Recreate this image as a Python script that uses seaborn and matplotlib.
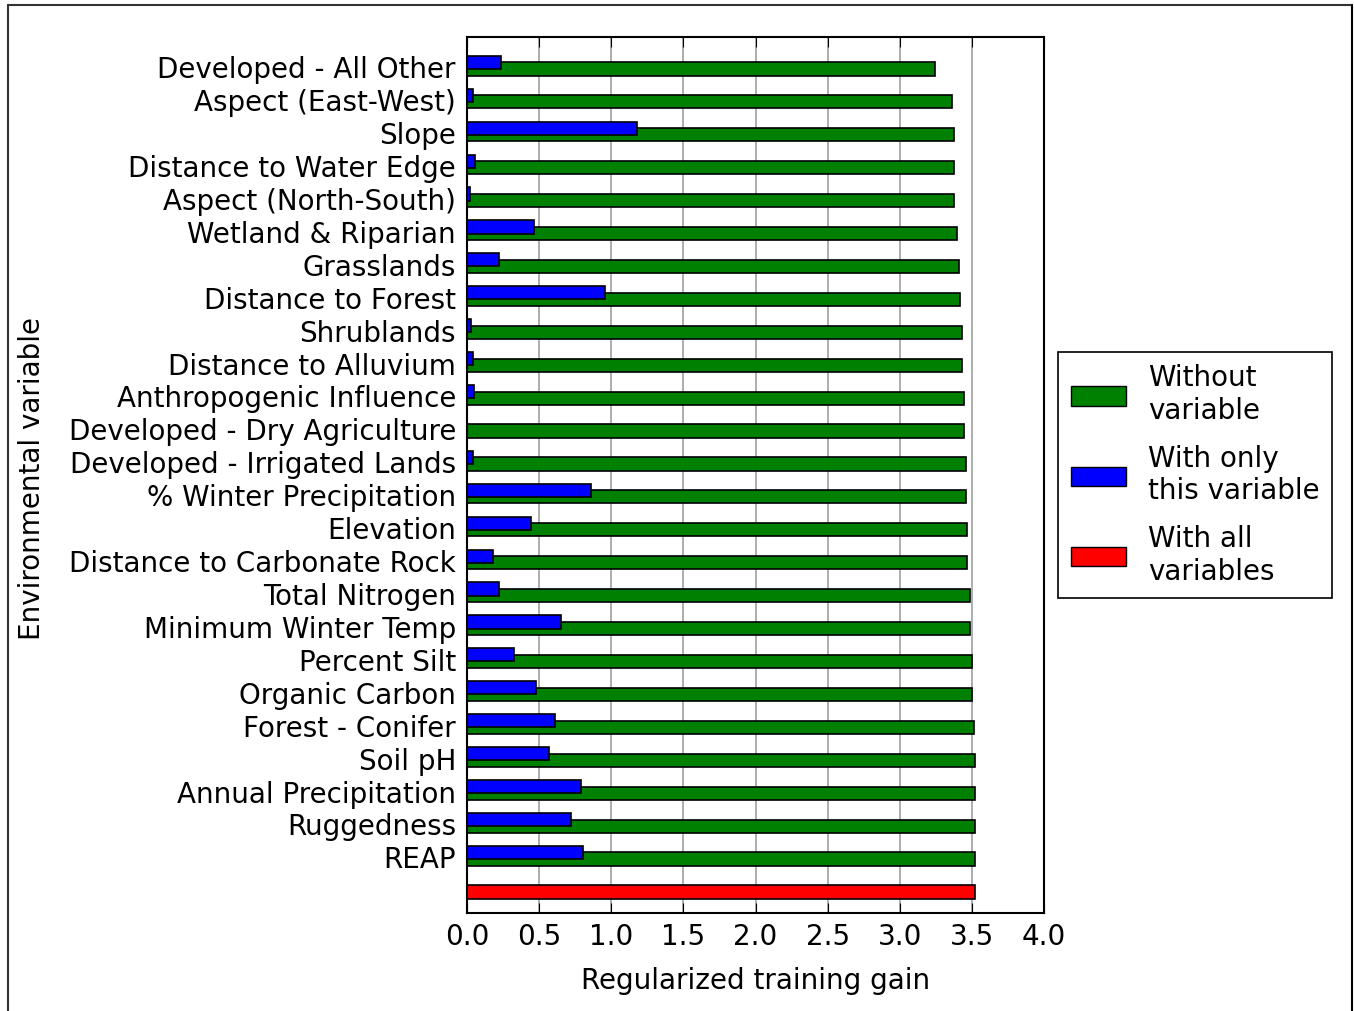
import pandas as pd
import seaborn as sns
import matplotlib.pyplot as plt
from matplotlib.patches import Patch
from matplotlib.lines import Line2D

variables = ["Developed - All Other", "Aspect (East-West)", "Slope",
             "Distance to Water Edge", "Aspect (North-South)", "Wetland & Riparian",
             "Grasslands", "Distance to Forest", "Shrublands", "Distance to Alluvium",
             "Anthropogenic Influence", "Developed - Dry Agriculture",
             "Developed - Irrigated Lands", "% Winter Precipitation", "Elevation",
             "Distance to Carbonate Rock", "Total Nitrogen", "Minimum Winter Temp",
             "Percent Silt", "Organic Carbon", "Forest - Conifer", "Soil pH",
             "Annual Precipitation", "Ruggedness", "REAP"]
without_var = [3.245, 3.361, 3.373, 3.373, 3.373, 3.397, 3.410, 3.421, 3.433, 3.433,
               3.444, 3.443, 3.456, 3.456, 3.468, 3.468, 3.488, 3.488, 3.502, 3.502,
               3.514, 3.525, 3.525, 3.525, 3.525]
only_var = [0.234, 0.039, 1.177, 0.057, 0.021, 0.465, 0.224, 0.954, 0.028, 0.039,
            0.051, 0.003, 0.039, 0.859, 0.445, 0.177, 0.224, 0.652, 0.327, 0.479,
            0.608, 0.571, 0.793, 0.721, 0.802]
all_vars = 3.523
xticks = [0.0, 0.5, 1.0, 1.5, 2.0, 2.5, 3.0, 3.5, 4.0]

n = len(variables)
pos = [n - i for i in range(n)]  # top row highest, red bar at 0
df = pd.DataFrame({"variable": variables, "pos": pos,
                   "without": without_var, "only": only_var})
df["pos_only"] = df["pos"] + 0.2

sns.set_style("white")
plt.rcParams["font.family"] = ["DejaVu Sans"]
plt.rcParams["text.color"] = "black"
plt.rcParams["axes.labelcolor"] = "black"
plt.rcParams["xtick.color"] = "black"
plt.rcParams["ytick.color"] = "black"

fig = plt.figure(figsize=(13.54, 10.11), dpi=100)
ax = fig.add_axes([467 / 1354, 1 - 913 / 1011, (1044 - 467) / 1354, (913 - 37) / 1011])

bar_kw = dict(orient="y", native_scale=True, width=0.4, errorbar=None,
              edgecolor="black", linewidth=1.2, ax=ax)
sns.barplot(data=df, x="without", y="pos", color="#008000", saturation=1, **bar_kw)
sns.barplot(data=df, x="only", y="pos_only", color="#0000ff", saturation=1, **bar_kw)
sns.barplot(x=[all_vars], y=[0], color="#ff0000", saturation=1, **bar_kw)

ax.set_xlim(0, 4)
ax.set_ylim(-0.64, n + 0.97)
ax.set_xticks(xticks)
ax.set_xticklabels([f"{t:.1f}" for t in xticks])
ax.set_yticks([p + 0.05 for p in pos])
ax.set_yticklabels(variables)
ax.tick_params(axis="x", direction="in", top=True, bottom=True, length=7,
               labelsize=20, pad=7, color="black", labelcolor="black")
ax.tick_params(axis="y", direction="in", left=False, right=False, labelsize=20, pad=8,
               labelcolor="black")
ax.xaxis.grid(True, color="#a0a0a0", linewidth=1.2)
ax.yaxis.grid(False)
ax.set_axisbelow(True)
for s in ax.spines.values():
    s.set_visible(True)
    s.set_color("black")
    s.set_linewidth(1.5)

ax.set_xlabel("Regularized training gain", fontsize=20, labelpad=12, color="black")
ax.set_ylabel("")
fig.text(32 / 1354, 1 - 478 / 1011, "Environmental variable", fontsize=20,
         rotation=90, ha="center", va="center", color="black")

handles = [Patch(facecolor="#008000", edgecolor="black", label="Without\nvariable"),
           Patch(facecolor="#0000ff", edgecolor="black", label="With only\nthis variable"),
           Patch(facecolor="#ff0000", edgecolor="black", label="With all\nvariables")]
leg = fig.legend(handles=handles, loc="center left", bbox_to_anchor=(1058 / 1354, 1 - 475 / 1011),
                 bbox_transform=fig.transFigure, borderaxespad=0, fontsize=20,
                 fancybox=False, framealpha=1, edgecolor="black", labelspacing=0.72,
                 handlelength=2.0, handleheight=0.7, borderpad=0.45)
leg.get_frame().set_linewidth(1.2)
for t in leg.get_texts():
    t.set_color("black")

# outer frame of the screenshot
fig.add_artist(Line2D([8 / 1354, 8 / 1354], [0, 1 - 5 / 1011], color="#333333", lw=1.5))
fig.add_artist(Line2D([8 / 1354, 1352 / 1354], [1 - 5 / 1011, 1 - 5 / 1011], color="#333333", lw=1.5))
fig.add_artist(Line2D([1352 / 1354, 1352 / 1354], [0, 1 - 5 / 1011], color="#000000", lw=1.5))

fig.savefig("out.png", dpi=100, facecolor="white")
